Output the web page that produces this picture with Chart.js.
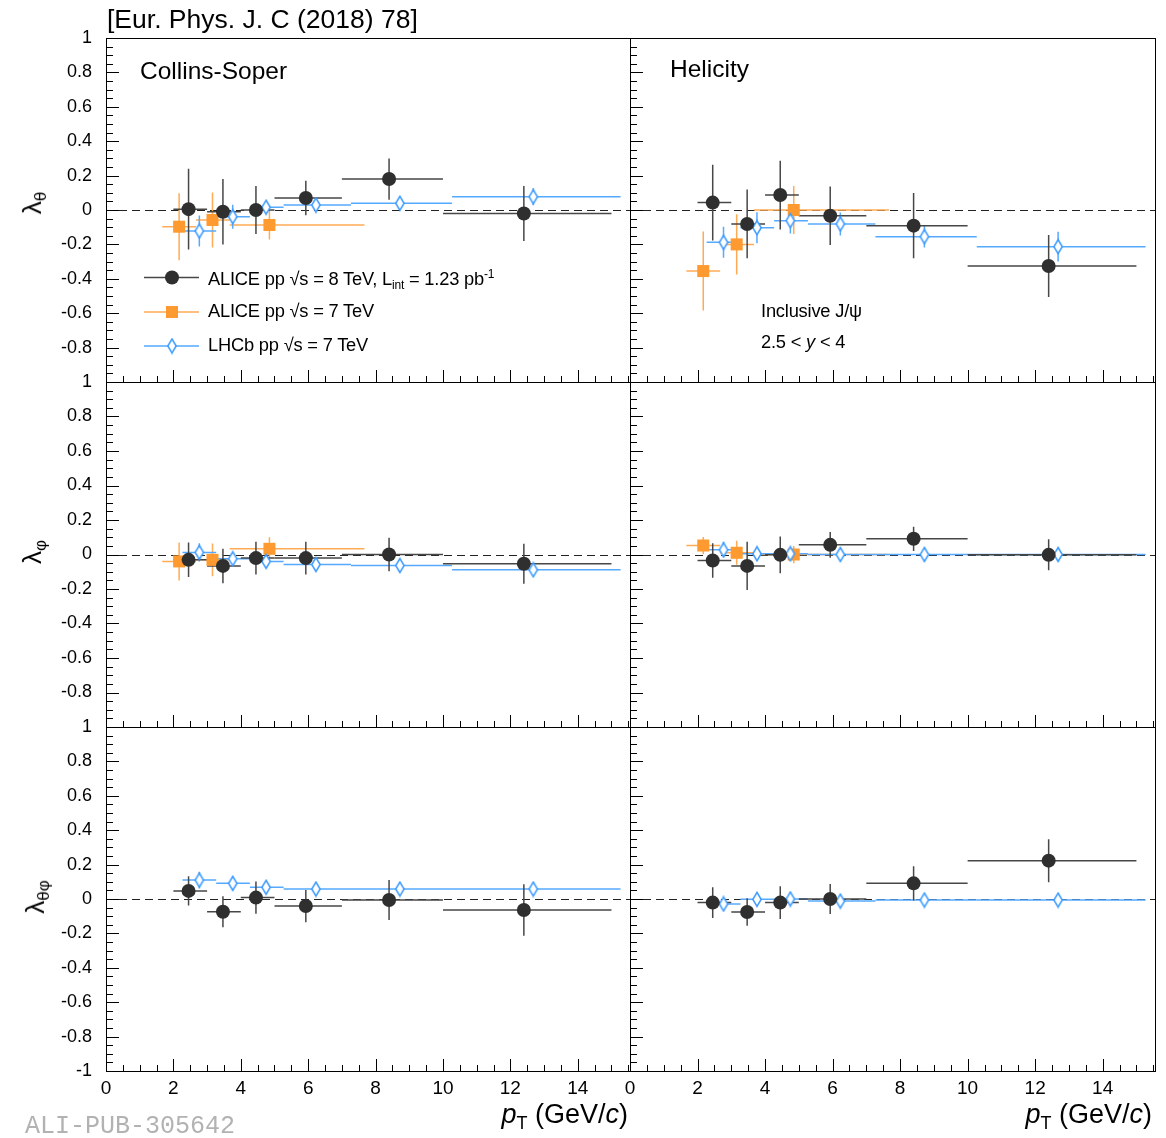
<!DOCTYPE html>
<html lang="en">
<head>
<meta charset="UTF-8" />
<title>J/psi polarization parameters vs pT</title>
<script src="https://cdn.jsdelivr.net/npm/chart.js"></script>
<style>
  body { margin: 0; background: #fff; }
  #page { position: relative; width: 1166px; height: 1138px; overflow: hidden;
          font-family: "Liberation Sans", Arial, sans-serif; color: #000; }
  canvas { position: absolute; }
  .txt { position: absolute; white-space: nowrap; line-height: 1; }
  .ytitle { position: absolute; white-space: nowrap; line-height: 1; font-size: 26px;
            transform-origin: center center; transform: translate(-50%, -50%) rotate(-90deg); }
  .ytitle sub { font-size: 17px; vertical-align: -0.3em; }
  .xtitle { position: absolute; white-space: nowrap; line-height: 1; font-size: 27px; text-align: right; }
  .xtitle sub { font-size: 18px; vertical-align: -0.35em; }
  .leg { font-size: 18.3px; letter-spacing: -0.2px; }
  .leg sub { font-size: 12px; vertical-align: -0.35em; }
  .leg sup { font-size: 12px; vertical-align: 0.55em; }
</style>
</head>
<body>
<div id="page">
  <canvas id="c00" width="634" height="372" style="left:0;top:24px"></canvas>
  <canvas id="c01" width="566" height="372" style="left:600px;top:24px"></canvas>
  <canvas id="c10" width="634" height="373" style="left:0;top:368px"></canvas>
  <canvas id="c11" width="566" height="373" style="left:600px;top:368px"></canvas>
  <canvas id="c20" width="634" height="425" style="left:0;top:713px"></canvas>
  <canvas id="c21" width="566" height="425" style="left:600px;top:713px"></canvas>

  <div class="txt" style="left:107px;top:6px;font-size:26.5px">[Eur. Phys. J. C (2018) 78]</div>
  <div class="txt" style="left:140px;top:59px;font-size:24.5px">Collins-Soper</div>
  <div class="txt" style="left:670px;top:57px;font-size:24.5px">Helicity</div>

  <div class="txt leg" style="left:208px;top:268px">ALICE pp &radic;s = 8 TeV, L<sub>int</sub> = 1.23 pb<sup>-1</sup></div>
  <div class="txt leg" style="left:208px;top:302px">ALICE pp &radic;s = 7 TeV</div>
  <div class="txt leg" style="left:208px;top:336px">LHCb pp &radic;s = 7 TeV</div>

  <div class="txt leg" style="left:761px;top:302px">Inclusive J/&psi;</div>
  <div class="txt leg" style="left:761px;top:333px">2.5 &lt; <i>y</i> &lt; 4</div>

  <div class="ytitle" style="left:34px;top:203px">&lambda;<sub>&theta;</sub></div>
  <div class="ytitle" style="left:34px;top:552px">&lambda;<sub>&phi;</sub></div>
  <div class="ytitle" style="left:37px;top:897px">&lambda;<sub>&theta;&phi;</sub></div>

  <div class="xtitle" style="right:538px;top:1101px"><i>p</i><sub>T</sub> (GeV/<i>c</i>)</div>
  <div class="xtitle" style="right:14px;top:1101px"><i>p</i><sub>T</sub> (GeV/<i>c</i>)</div>

  <div class="txt" style="left:25px;top:1114px;font-size:25px;font-family:'Liberation Mono',monospace;color:#b2b2b2">ALI-PUB-305642</div>
</div>

<script>
// pT bins as drawn (ALICE 7 TeV and LHCb points are shifted slightly in pT)
const ptAlice8 = [2.45, 3.47, 4.45, 5.93, 8.4, 12.4];
const loAlice8 = [2, 3, 4, 5, 7, 10];
const hiAlice8 = [3, 4, 5, 7, 10, 15];
const ptAlice7 = [2.17, 3.16, 4.85];
const loAlice7 = [1.67, 2.67, 3.67];
const hiAlice7 = [2.67, 3.67, 7.67];
const ptLhcb = [2.77, 3.76, 4.75, 6.23, 8.72, 12.68];
const loLhcb = [2.27, 3.27, 4.27, 5.27, 7.27, 10.27];
const hiLhcb = [3.27, 4.27, 5.27, 7.27, 10.27, 15.27];

// lambda_theta
const csTheta8 = [0.005, -0.01, 0.0, 0.07, 0.18, -0.02];
const csTheta8Err = [0.235, 0.19, 0.14, 0.1, 0.12, 0.16];
const csTheta7 = [-0.097, -0.058, -0.087];
const csTheta7Err = [0.195, 0.16, 0.085];
const csThetaLhcb = [-0.122, -0.039, 0.016, 0.029, 0.039, 0.077];
const csThetaLhcbErr = [0.09, 0.07, 0.035, 0.03, 0.02, 0.05];
const hxTheta8 = [0.043, -0.081, 0.087, -0.033, -0.091, -0.326];
const hxTheta8Err = [0.22, 0.2, 0.2, 0.17, 0.19, 0.18];
const hxTheta7 = [-0.355, -0.2, 0.0];
const hxTheta7Err = [0.23, 0.175, 0.14];
const hxThetaLhcb = [-0.188, -0.103, -0.062, -0.081, -0.155, -0.213];
const hxThetaLhcbErr = [0.09, 0.09, 0.075, 0.067, 0.063, 0.087];

// lambda_phi
const csPhi8 = [-0.031, -0.066, -0.021, -0.021, 0.0, -0.054];
const csPhi8Err = [0.1, 0.1, 0.095, 0.095, 0.097, 0.116];
const csPhi7 = [-0.04, -0.031, 0.033];
const csPhi7Err = [0.11, 0.095, 0.067];
const csPhiLhcb = [0.012, -0.025, -0.04, -0.058, -0.064, -0.089];
const csPhiLhcbErr = [0.053, 0.03, 0.03, 0.025, 0.025, 0.03];
const hxPhi8 = [-0.035, -0.066, -0.002, 0.056, 0.091, -0.002];
const hxPhi8Err = [0.1, 0.14, 0.107, 0.075, 0.07, 0.09];
const hxPhi7 = [0.052, 0.01, 0.0];
const hxPhi7Err = [0.05, 0.07, 0.05];
const hxPhiLhcb = [0.027, 0.004, 0.004, 0.0, 0.0, 0.0];
const hxPhiLhcbErr = [0.045, 0.035, 0.03, 0.025, 0.025, 0.03];

// lambda_theta_phi (no ALICE 7 TeV)
const csThPhi8 = [0.047, -0.074, 0.008, -0.041, -0.006, -0.064];
const csThPhi8Err = [0.085, 0.09, 0.094, 0.094, 0.116, 0.15];
const csThPhiLhcb = [0.11, 0.091, 0.068, 0.058, 0.058, 0.058];
const csThPhiLhcbErr = [0.048, 0.04, 0.035, 0.03, 0.03, 0.03];
const hxThPhi8 = [-0.021, -0.076, -0.021, 0.0, 0.091, 0.223];
const hxThPhi8Err = [0.09, 0.08, 0.095, 0.087, 0.1, 0.125];
const hxThPhiLhcb = [-0.029, -0.002, 0.0, -0.012, -0.006, -0.006];
const hxThPhiLhcbErr = [0.025, 0.02, 0.03, 0.02, 0.02, 0.02];

const yTicks = { min: -1, max: 1, step: 0.2 };
const xMax = 15.55;

const COL8 = '#2f2f2f', BAR8 = '#474747';
const COL7 = '#ff9a30', BAR7 = '#ffab55';
const COLLB = '#3d9bff', BARLB = '#55a9ff';

// open narrow diamond for LHCb
const diamond = document.createElement('canvas');
diamond.width = 12; diamond.height = 17;
(function () {
  const g = diamond.getContext('2d');
  g.beginPath();
  g.moveTo(6, 1.5); g.lineTo(10.2, 8.5); g.lineTo(6, 15.5); g.lineTo(1.8, 8.5); g.closePath();
  g.fillStyle = '#fff'; g.fill();
  g.lineWidth = 1.5; g.strokeStyle = COLLB; g.stroke();
})();

function toPts(xs, ys) { return xs.map((x, i) => ({ x: x, y: ys[i] })); }

function makeSets(a8, a8e, a7, a7e, lb, lbe) {
  const sets = [{
    label: 'ALICE 8 TeV', data: toPts(ptAlice8, a8), xLo: loAlice8, xHi: hiAlice8, yErr: a8e,
    barColor: BAR8, pointStyle: 'circle', pointRadius: 7, backgroundColor: COL8, borderColor: COL8, borderWidth: 0
  }];
  sets.push({
    label: 'LHCb 7 TeV', data: toPts(ptLhcb, lb), xLo: loLhcb, xHi: hiLhcb, yErr: lbe,
    barColor: BARLB, pointStyle: diamond, pointRadius: 6, backgroundColor: '#fff', borderColor: COLLB, borderWidth: 0
  });
  if (a7) sets.push({
    label: 'ALICE 7 TeV', data: toPts(ptAlice7, a7), xLo: loAlice7, xHi: hiAlice7, yErr: a7e,
    barColor: BAR7, pointStyle: 'rect', pointRadius: 8.5, backgroundColor: COL7, borderColor: COL7, borderWidth: 0
  });
  return sets;
}

const framePlugin = {
  id: 'frame',
  beforeDatasetsDraw(chart) {
    const { ctx, chartArea: a, scales: { x, y } } = chart;
    ctx.save();
    // dashed zero line
    const y0 = Math.round(y.getPixelForValue(0)) + 0.5;
    ctx.setLineDash([8, 5]);
    ctx.strokeStyle = '#222'; ctx.lineWidth = 1.2;
    ctx.beginPath(); ctx.moveTo(a.left, y0); ctx.lineTo(a.right, y0); ctx.stroke();
    ctx.setLineDash([]);
    // error bars
    const sets = chart.data.datasets;
    for (let d = sets.length - 1; d >= 0; d--) {
      const ds = sets[d];
      ctx.strokeStyle = ds.barColor; ctx.lineWidth = 1.5;
      ds.data.forEach((p, i) => {
        const px = x.getPixelForValue(p.x), py = y.getPixelForValue(p.y);
        ctx.beginPath();
        ctx.moveTo(x.getPixelForValue(ds.xLo[i]), py); ctx.lineTo(x.getPixelForValue(ds.xHi[i]), py);
        ctx.moveTo(px, y.getPixelForValue(p.y + ds.yErr[i])); ctx.lineTo(px, y.getPixelForValue(p.y - ds.yErr[i]));
        ctx.stroke();
      });
    }
    ctx.restore();
  },
  afterDraw(chart) {
    const { ctx, chartArea: a, scales: { x, y } } = chart;
    ctx.save();
    ctx.strokeStyle = '#000'; ctx.lineWidth = 1;
    ctx.strokeRect(a.left + 0.5, a.top + 0.5, a.right - a.left, a.bottom - a.top);
    ctx.beginPath();
    for (let k = -20; k <= 20; k++) {
      const py = Math.round(y.getPixelForValue(k * 0.05)) + 0.5;
      const len = k % 4 === 0 ? 13 : 7;
      ctx.moveTo(a.left, py); ctx.lineTo(a.left + len, py);
    }
    for (let k = 0; k * 0.5 <= xMax; k++) {
      const px = Math.round(x.getPixelForValue(k * 0.5)) + 0.5;
      const len = k % 4 === 0 ? 12 : 6;
      ctx.moveTo(px, a.bottom); ctx.lineTo(px, a.bottom - len);
    }
    ctx.stroke();
    // legend symbols (top-left panel)
    if (chart.canvas.id === 'c00') {
      const rows = [[239.5, BAR8, 0], [274, BAR7, 2], [308, BARLB, 1]];
      rows.forEach(([dy, col, di]) => {
        const ly = a.top + dy, lx = a.left + 66;
        ctx.strokeStyle = col; ctx.lineWidth = 1.5;
        ctx.beginPath(); ctx.moveTo(a.left + 38, ly); ctx.lineTo(a.left + 93, ly); ctx.stroke();
        if (di === 0) {
          ctx.fillStyle = COL8; ctx.beginPath(); ctx.arc(lx, ly, 7, 0, Math.PI * 2); ctx.fill();
        } else if (di === 2) {
          ctx.fillStyle = COL7; ctx.fillRect(lx - 6, ly - 6, 12, 12);
        } else {
          ctx.drawImage(diamond, lx - 6, ly - 8.5);
        }
      });
    }
    ctx.restore();
  }
};

function makePanel(id, row, col, sets) {
  const fontY = { family: 'Liberation Sans', size: 18 };
  const fontX = { family: 'Liberation Sans', size: 19 };
  const pad = col === 0
    ? { left: 0, right: 4, top: 14, bottom: row === 2 ? 0 : 14 }
    : { left: 30, right: 11, top: 14, bottom: row === 2 ? 0 : 14 };
  return new Chart(document.getElementById(id), {
    type: 'scatter',
    data: { datasets: sets },
    options: {
      responsive: false,
      animation: false,
      devicePixelRatio: 1,
      layout: { padding: pad, autoPadding: false },
      plugins: { legend: { display: false }, tooltip: { enabled: false } },
      scales: {
        x: {
          type: 'linear', min: 0, max: xMax,
          display: row === 2,
          grid: { display: false, drawTicks: false },
          border: { display: false },
          ticks: {
            stepSize: 2, includeBounds: false, autoSkip: false, maxRotation: 0, padding: 6,
            color: '#000', font: fontX,
            callback: v => (Math.abs(v / 2 - Math.round(v / 2)) < 1e-6 ? String(Math.round(v)) : '')
          },
          afterFit(s) {
            if (row === 2) s.height = 67;
            s.paddingLeft = 0; s.paddingRight = 0;
          }
        },
        y: {
          type: 'linear', min: yTicks.min, max: yTicks.max,
          display: col === 0,
          grid: { display: false, drawTicks: false },
          border: { display: false },
          ticks: {
            stepSize: yTicks.step, autoSkip: false, padding: 14, color: '#000', font: fontY,
            callback: v => (row < 2 && Math.abs(v + 1) < 1e-6) ? '' : String(+(+v).toFixed(1))
          },
          afterFit(s) {
            if (col === 0) s.width = 106;
            s.paddingTop = 0; s.paddingBottom = 0;
          }
        }
      }
    },
    plugins: [framePlugin]
  });
}

makePanel('c00', 0, 0, makeSets(csTheta8, csTheta8Err, csTheta7, csTheta7Err, csThetaLhcb, csThetaLhcbErr));
makePanel('c01', 0, 1, makeSets(hxTheta8, hxTheta8Err, hxTheta7, hxTheta7Err, hxThetaLhcb, hxThetaLhcbErr));
makePanel('c10', 1, 0, makeSets(csPhi8, csPhi8Err, csPhi7, csPhi7Err, csPhiLhcb, csPhiLhcbErr));
makePanel('c11', 1, 1, makeSets(hxPhi8, hxPhi8Err, hxPhi7, hxPhi7Err, hxPhiLhcb, hxPhiLhcbErr));
makePanel('c20', 2, 0, makeSets(csThPhi8, csThPhi8Err, null, null, csThPhiLhcb, csThPhiLhcbErr));
makePanel('c21', 2, 1, makeSets(hxThPhi8, hxThPhi8Err, null, null, hxThPhiLhcb, hxThPhiLhcbErr));
</script>
</body>
</html>
